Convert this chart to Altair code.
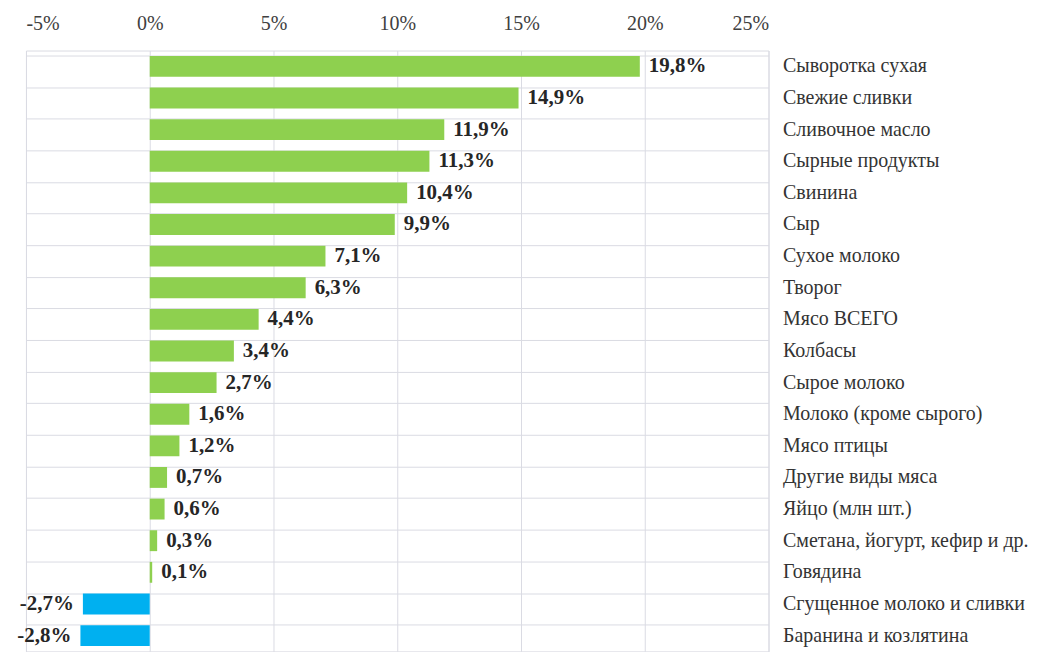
import altair as alt
import pandas as pd

categories = [
    "Сыворотка сухая", "Свежие сливки", "Сливочное масло", "Сырные продукты",
    "Свинина", "Сыр", "Сухое молоко", "Творог", "Мясо ВСЕГО", "Колбасы",
    "Сырое молоко", "Молоко (кроме сырого)", "Мясо птицы", "Другие виды мяса",
    "Яйцо (млн шт.)", "Сметана, йогурт, кефир и др.", "Говядина",
    "Сгущенное молоко и сливки", "Баранина и козлятина",
]
values = [19.8, 14.9, 11.9, 11.3, 10.4, 9.9, 7.1, 6.3, 4.4, 3.4, 2.7, 1.6, 1.2,
          0.7, 0.6, 0.3, 0.1, -2.7, -2.8]
x_ticks = [-5, 0, 5, 10, 15, 20, 25]

df = pd.DataFrame({"cat": categories, "val": values})
df["label"] = [f"{v:.1f}".replace(".", ",") + "%" for v in values]
df["sign"] = ["pos" if v >= 0 else "neg" for v in values]

FONT = "Liberation Serif"
GRID = "#dadbe3"

y_enc = alt.Y("cat:N", sort=categories, title=None,
              scale=alt.Scale(paddingInner=0.34, paddingOuter=0.17),
              axis=alt.Axis(orient="right", ticks=False, domain=False,
                            labelAlign="left", labelPadding=14,
                            labelFont=FONT, labelFontSize=20, labelColor="#333333",
                            grid=True, gridColor=GRID, bandPosition=0,
                            labelLimit=300))
x_enc = alt.X("val:Q", title=None,
              scale=alt.Scale(domain=[-5, 25], nice=False),
              axis=alt.Axis(orient="top", values=x_ticks, labelExpr="datum.value + '%'",
                            ticks=False, domain=False, labelPadding=17,
                            labelFont=FONT, labelFontSize=20, labelColor="#404040",
                            grid=True, gridColor=GRID))

bars = alt.Chart(df).mark_bar().encode(
    x=x_enc, y=y_enc,
    color=alt.Color("sign:N", scale=alt.Scale(domain=["pos", "neg"],
                                              range=["#8ed04f", "#00b0f0"]),
                    legend=None),
)

pos_text = alt.Chart(df).transform_filter("datum.val >= 0").mark_text(
    align="left", dx=9, font=FONT, fontSize=21, fontWeight="bold", color="#262626"
).encode(x="val:Q", y=alt.Y("cat:N", sort=categories), text="label:N")

neg_text = alt.Chart(df).transform_filter("datum.val < 0").mark_text(
    align="right", dx=-9, font=FONT, fontSize=21, fontWeight="bold", color="#262626"
).encode(x="val:Q", y=alt.Y("cat:N", sort=categories), text="label:N")

chart = (bars + pos_text + neg_text).properties(
    width=744, height=602,
    autosize=alt.AutoSizeParams(type="none"),
    padding={"left": 18, "top": 42, "right": 270, "bottom": 0},
).configure_view(stroke=GRID)

chart.save("out.html", embed_options={"renderer": "svg", "actions": False})
